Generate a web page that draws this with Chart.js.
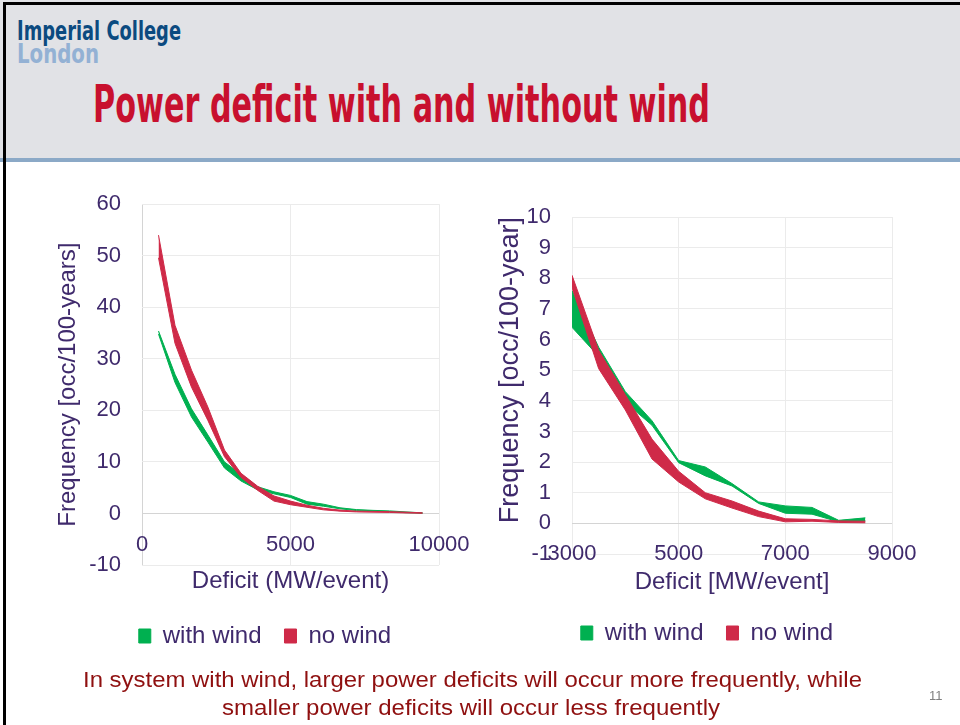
<!DOCTYPE html>
<html>
<head>
<meta charset="utf-8">
<script src="https://cdn.jsdelivr.net/npm/chart.js@4.4.0/dist/chart.umd.min.js"></script>
<style>
    html, body { margin: 0; padding: 0; background: #fff; }
    body { width: 960px; height: 725px; position: relative; overflow: hidden; font-family: "Liberation Sans", Arial, sans-serif; }
    .header { position: absolute; left: 0; top: 0; width: 960px; height: 158px; background: #e1e2e6; }
    .rule { position: absolute; left: 0; top: 158px; width: 960px; height: 4px; background: #8ba9c7; }
    .frame-top { position: absolute; left: 3px; top: 2px; width: 957px; height: 3px; background: #000; }
    .frame-left { position: absolute; left: 3px; top: 2px; width: 3px; height: 723px; background: #000; }
    .fit { position: absolute; white-space: nowrap; line-height: 1; transform-origin: 0 0; }
    canvas { position: absolute; }
</style>
</head>
<body>
<div class="header"></div>
<div class="rule"></div>
<div class="frame-top"></div>
<div class="frame-left"></div>

<div class="fit" data-w="164" style="left:17px; top:17px; font-size:27px; font-weight:bold; color:#0b4a80; font-family:'Liberation Sans Narrow','DejaVu Sans Condensed','Liberation Sans',sans-serif; font-stretch:condensed;">Imperial College</div>
<div class="fit" data-w="82" style="left:17px; top:40px; font-size:27px; font-weight:bold; color:#93b1d4; font-family:'Liberation Sans Narrow','DejaVu Sans Condensed','Liberation Sans',sans-serif; font-stretch:condensed;">London</div>
<div class="fit" data-w="617" style="left:93px; top:79px; font-size:51px; font-weight:bold; color:#c8102e; font-family:'DejaVu Sans Condensed','DejaVu Sans',sans-serif; font-stretch:condensed;">Power deficit with and without wind</div>

<canvas id="chartA" width="520" height="500" style="left:0px; top:170px;"></canvas>
<canvas id="chartB" width="490" height="500" style="left:470px; top:170px;"></canvas>

<div class="fit" data-w="779" style="left:83px; top:669px; font-size:22px; color:#8f1010;">In system with wind, larger power deficits will occur more frequently, while</div>
<div class="fit" data-w="498" style="left:222px; top:697px; font-size:22px; color:#8f1010;">smaller power deficits will occur less frequently</div>
<div class="fit" style="left:929px; top:689px; font-size:13px; color:#808080;">11</div>

<script>
// left chart: deficit (MW/event) vs frequency bands
const deficitA = [556, 1111, 1667, 2222, 2778, 3333, 3889, 4444, 5000, 5556, 6111, 6667, 7222, 7778, 8333, 8889, 9444];
const windLowA = [34.8, 25.4, 18.7, 13.8, 8.8, 6.3, 4.6, 3.8, 3.1, 1.8, 1.4, 0.9, 0.55, 0.45, 0.35, 0.15, 0.05];
const windHighA = [35.4, 27.0, 20.3, 15.2, 10.0, 7.6, 5.2, 4.2, 3.5, 2.3, 1.8, 1.1, 0.75, 0.6, 0.5, 0.3, 0.12];
const noWindLowA = [49.6, 33.0, 24.5, 18.0, 11.0, 7.0, 4.5, 2.4, 1.7, 1.2, 0.7, 0.45, 0.3, 0.25, 0.2, 0.1, 0.05];
const noWindHighA = [54.0, 36.5, 27.8, 20.6, 12.3, 7.8, 5.3, 3.4, 2.4, 1.6, 1.0, 0.65, 0.45, 0.4, 0.35, 0.25, 0.12];

// right chart: deficit [MW/event] vs frequency bands
const deficitB = [3000, 3500, 4000, 4500, 5000, 5500, 6000, 6500, 7000, 7500, 8000, 8500];
const windLowB = [6.4, 5.45, 3.95, 3.2, 1.98, 1.55, 1.22, 0.65, 0.33, 0.3, 0.05, 0.08];
const windHighB = [7.6, 5.75, 4.3, 3.35, 2.05, 1.84, 1.3, 0.7, 0.57, 0.52, 0.1, 0.18];
const noWindLowB = [7.7, 5.05, 3.7, 2.1, 1.35, 0.8, 0.5, 0.22, 0.05, 0.07, 0.03, 0.02];
const noWindHighB = [8.1, 5.65, 4.2, 2.75, 1.7, 1.0, 0.73, 0.4, 0.15, 0.13, 0.08, 0.07];

const seriesLabels = ['with wind', 'no wind'];

const GREEN = '#00b050';
const RED = '#cf2a48';
const PURPLE = '#3f2a6c';
const FONT = '"Liberation Sans", Arial, sans-serif';

Chart.defaults.font.family = FONT;

// scale every fitted text element to its measured width in the slide
document.querySelectorAll('.fit[data-w]').forEach(el => {
    const w = el.getBoundingClientRect().width;
    el.style.transform = `scaleX(${el.dataset.w / w})`;
});

const toPoints = (xs, ys) => xs.map((x, i) => ({ x, y: ys[i] }));

// two line datasets per series, the upper one filled down to the lower one
const band = (label, xs, lo, hi, color, order) => [
    {
        label: label + ' low', data: toPoints(xs, lo), isLower: true, order,
        borderColor: color, backgroundColor: color, borderWidth: 1, pointRadius: 0, fill: false, tension: 0
    },
    {
        label, data: toPoints(xs, hi), order,
        borderColor: color, backgroundColor: color, borderWidth: 1, pointRadius: 0, fill: '-1', tension: 0
    }
];

const gridColor = ctx => (ctx.tick && ctx.tick.value === 0) ? '#d4d4d4' : '#ebebeb';

const buildChart = (id, o) => {
    const ctx = document.getElementById(id).getContext('2d');
    return new Chart(ctx, {
        type: 'line',
        data: {
            datasets: [
                ...band(seriesLabels[0], o.xs, o.windLow, o.windHigh, GREEN, 1),
                ...band(seriesLabels[1], o.xs, o.noWindLow, o.noWindHigh, RED, 0)
            ]
        },
        options: {
            responsive: false,
            animation: false,
            devicePixelRatio: 1,
            layout: { padding: o.padding },
            scales: {
                x: {
                    type: 'linear',
                    position: o.xPos,
                    min: o.xMin, max: o.xMax,
                    ticks: {
                        stepSize: o.xStep, color: PURPLE, font: { size: 22 }, padding: o.xTickPad,
                        maxRotation: 0, autoSkip: false, callback: v => String(v)
                    },
                    grid: { color: gridColor, drawTicks: false },
                    border: { display: false },
                    title: { display: true, text: o.xTitle, color: PURPLE, font: { size: 24 }, padding: 0 },
                    afterFit: s => { s.height = o.xHeight; }
                },
                y: {
                    type: 'linear',
                    position: 'left',
                    min: o.yMin, max: o.yMax,
                    ticks: { stepSize: o.yStep, color: PURPLE, font: { size: 22 }, padding: 21 },
                    grid: { color: gridColor, drawTicks: false },
                    border: { display: false },
                    title: {
                        display: true, text: o.yTitle, color: PURPLE, align: o.yTitleAlign,
                        font: { size: o.yTitleSize }, padding: 0
                    },
                    afterFit: s => { s.width = o.yWidth; }
                },
                gapRight: {
                    type: 'linear',
                    position: 'right',
                    ticks: { display: false },
                    grid: { display: false },
                    border: { display: false },
                    afterFit: s => { s.width = o.rightWidth; }
                },
                gapBottom: {
                    type: 'linear',
                    axis: 'x',
                    position: 'bottom',
                    ticks: { display: false },
                    grid: { display: false },
                    border: { display: false },
                    afterFit: s => { s.height = o.bottomGap; }
                }
            },
            plugins: {
                tooltip: { enabled: false },
                legend: {
                    position: 'bottom',
                    labels: {
                        color: PURPLE,
                        font: { size: 24 },
                        boxWidth: 12,
                        boxHeight: 14,
                        padding: 23,
                        filter: (item, data) => !data.datasets[item.datasetIndex].isLower,
                        sort: (a, b) => a.datasetIndex - b.datasetIndex
                    }
                }
            }
        }
    });
};

buildChart('chartA', {
    xs: deficitA, windLow: windLowA, windHigh: windHighA, noWindLow: noWindLowA, noWindHigh: noWindHighA,
    xMin: 0, xMax: 10000, xStep: 5000, yMin: -10, yMax: 60, yStep: 10,
    xTitle: 'Deficit (MW/event)', yTitle: 'Frequency [occ/100-years]', yTitleSize: 24, yTitleAlign: 'center',
    xPos: { y: 0 }, xTickPad: 18, xHeight: 82,
    yWidth: 88, rightWidth: 37, bottomGap: 36,
    padding: { left: 54, right: 44, top: 34, bottom: 12 }
});

buildChart('chartB', {
    xs: deficitB, windLow: windLowB, windHigh: windHighB, noWindLow: noWindLowB, noWindHigh: noWindHighB,
    xMin: 3000, xMax: 9000, xStep: 2000, yMin: -1, yMax: 10, yStep: 1,
    xTitle: 'Deficit [MW/event]', yTitle: 'Frequency [occ/100-year]', yTitleSize: 27, yTitleAlign: 'end',
    xPos: { y: -1 }, xTickPad: -13, xHeight: 43,
    yWidth: 78, rightWidth: 28, bottomGap: 44,
    padding: { left: 24, right: 40, top: 47, bottom: 15 }
});
</script>
</body>
</html>
